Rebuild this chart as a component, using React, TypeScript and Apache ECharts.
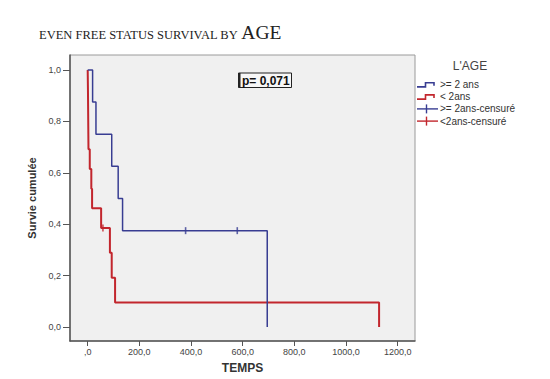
import React, { useEffect, useRef } from "react";
import * as echarts from "echarts";

const blueName = ">= 2 ans";
const redName = "< 2ans";
const blueCensName = ">= 2ans-censuré";
const redCensName = "<2ans-censuré";

const blueTimes = [0, 19, 32, 93, 118, 135, 695];
const blueSurv = [1, 0.875, 0.75, 0.625, 0.5, 0.375, 0];
const blueCensTimes = [379, 579];
const blueCensSurv = [0.375, 0.375];

const redTimes = [0, 1, 3, 8, 14, 17, 52, 86, 93, 106, 1128];
const redSurv = [1, 0.923, 0.692, 0.615, 0.538, 0.462, 0.385, 0.289, 0.192, 0.096, 0];
const redCensTimes = [59];
const redCensSurv = [0.385];

const xTicks = [0, 200, 400, 600, 800, 1000, 1200];
const yTicks = [0, 0.2, 0.4, 0.6, 0.8, 1.0];

const pValue = "0,071";
const legendTitle = "L'AGE";
const xName = "TEMPS";
const yName = "Survie cumulée";
const titleSmall = "EVEN FREE STATUS SURVIVAL BY ";
const titleBig = "AGE";

const BLUE = "#383d92";
const RED = "#c2262d";
const SANS = "'Liberation Sans', Arial, sans-serif";
const SERIF = "'Liberation Serif', 'DejaVu Serif', serif";

export default function App() {
  const ref = useRef<HTMLDivElement>(null);
  useEffect(() => {
    if (!ref.current) return;
    const chart = echarts.init(ref.current, null, { renderer: "svg" });
    const legendItems = [
      { name: blueName, color: BLUE, kind: "step" },
      { name: redName, color: RED, kind: "step" },
      { name: blueCensName, color: BLUE, kind: "cens" },
      { name: redCensName, color: RED, kind: "cens" },
    ];
    const legendEls: any[] = [];
    legendItems.forEach((it, i) => {
      const y = 84.5 + i * 12.2;
      if (it.kind === "step") {
        legendEls.push({
          type: "polyline",
          shape: { points: [[417, y + 2.4], [425.5, y + 2.4], [425.5, y - 1.8], [434, y - 1.8], [434, y + 1.2]] },
          style: { stroke: it.color, lineWidth: 1.6, fill: null },
        });
      } else {
        legendEls.push({ type: "line", shape: { x1: 417, y1: y, x2: 438, y2: y }, style: { stroke: it.color, lineWidth: 1.4 } });
        legendEls.push({ type: "line", shape: { x1: 426.5, y1: y - 4.5, x2: 426.5, y2: y + 4.5 }, style: { stroke: it.color, lineWidth: 1.4 } });
      }
      legendEls.push({
        type: "text",
        x: 440,
        y: y,
        style: { text: it.name, fill: "#333", font: "10px " + SANS, textVerticalAlign: "middle", textAlign: "left" },
      });
    });

    chart.setOption({
      animation: false,
      backgroundColor: "#ffffff",
      title: {
        text: `{s|${titleSmall}}{b|${titleBig}}`,
        left: 34,
        top: 17,
        textStyle: {
          fontWeight: "normal",
          rich: {
            s: { fontFamily: SERIF, fontSize: 12.5, fontWeight: "normal", color: "#222", verticalAlign: "bottom", padding: [0, 0, 1, 0] },
            b: { fontFamily: SERIF, fontSize: 19.5, fontWeight: "normal", color: "#222", verticalAlign: "bottom" },
          },
        },
      },
      grid: {
        left: 70,
        top: 55,
        width: 345,
        height: 288,
        show: true,
        backgroundColor: "#f0f0f0",
        borderColor: "#9a9a9a",
        borderWidth: 1,
      },
      xAxis: {
        type: "value",
        min: -68.5,
        max: 1267,
        name: xName,
        nameLocation: "middle",
        nameGap: 21,
        nameTextStyle: { fontFamily: SANS, fontWeight: "bold", fontSize: 12, color: "#333" },
        axisLine: { show: true, onZero: false, lineStyle: { color: "#555", width: 1.5 } },
        axisTick: { show: true, customValues: xTicks, length: 5, lineStyle: { color: "#555" } },
        axisLabel: {
          customValues: xTicks,
          margin: 6,
          fontFamily: SANS,
          fontSize: 9,
          color: "#444",
          formatter: (v: number) => (v === 0 ? ",0" : v.toFixed(1).replace(".", ",")),
        },
        splitLine: { show: false },
      },
      yAxis: {
        type: "value",
        min: -0.054,
        max: 1.058,
        name: yName,
        nameLocation: "middle",
        nameGap: 23,
        nameTextStyle: { fontFamily: SANS, fontWeight: "bold", fontSize: 11, color: "#333" },
        axisLine: { show: true, onZero: false, lineStyle: { color: "#555", width: 1.5 } },
        axisTick: { show: true, customValues: yTicks, length: 7, lineStyle: { color: "#555" } },
        axisLabel: {
          customValues: yTicks,
          margin: 9,
          fontFamily: SANS,
          fontSize: 9,
          color: "#444",
          formatter: (v: number) => v.toFixed(1).replace(".", ","),
        },
        splitLine: { show: false },
      },
      series: [
        {
          type: "line",
          name: redName,
          step: "end",
          data: redTimes.map((t, i) => [t, redSurv[i]]),
          showSymbol: false,
          lineStyle: { color: RED, width: 2 },
          itemStyle: { color: RED },
          z: 2,
        },
        {
          type: "scatter",
          name: redCensName,
          data: redCensTimes.map((t, i) => [t, redCensSurv[i]]),
          symbol: "rect",
          symbolSize: [1.6, 7],
          itemStyle: { color: RED },
          z: 3,
        },
        {
          type: "line",
          name: blueName,
          step: "end",
          data: blueTimes.map((t, i) => [t, blueSurv[i]]),
          showSymbol: false,
          lineStyle: { color: BLUE, width: 1.5 },
          itemStyle: { color: BLUE },
          z: 4,
        },
        {
          type: "scatter",
          name: blueCensName,
          data: blueCensTimes.map((t, i) => [t, blueCensSurv[i]]),
          symbol: "rect",
          symbolSize: [1.6, 7],
          itemStyle: { color: BLUE },
          z: 5,
        },
      ],
      graphic: [
        {
          type: "rect",
          shape: { x: 238.5, y: 73, width: 53, height: 14.5 },
          style: { fill: "#f7f7f7", stroke: "#222", lineWidth: 1 },
          z: 10,
        },
        {
          type: "line",
          shape: { x1: 239.5, y1: 73, x2: 239.5, y2: 87.5 },
          style: { stroke: "#222", lineWidth: 2 },
          z: 11,
        },
        {
          type: "text",
          x: 242,
          y: 80.5,
          z: 11,
          style: { text: "p= " + pValue, fill: "#111", font: "bold 12px " + SANS, textVerticalAlign: "middle" },
        },
        {
          type: "text",
          x: 470,
          y: 66,
          style: { text: legendTitle, fill: "#444", font: "12px " + SANS, textAlign: "center", textVerticalAlign: "middle" },
        },
        ...legendEls,
      ],
    });
    return () => chart.dispose();
  }, []);
  return <div ref={ref} style={{ position: "fixed", left: 0, top: 0, width: 550, height: 379, background: "#fff" }} />;
}
